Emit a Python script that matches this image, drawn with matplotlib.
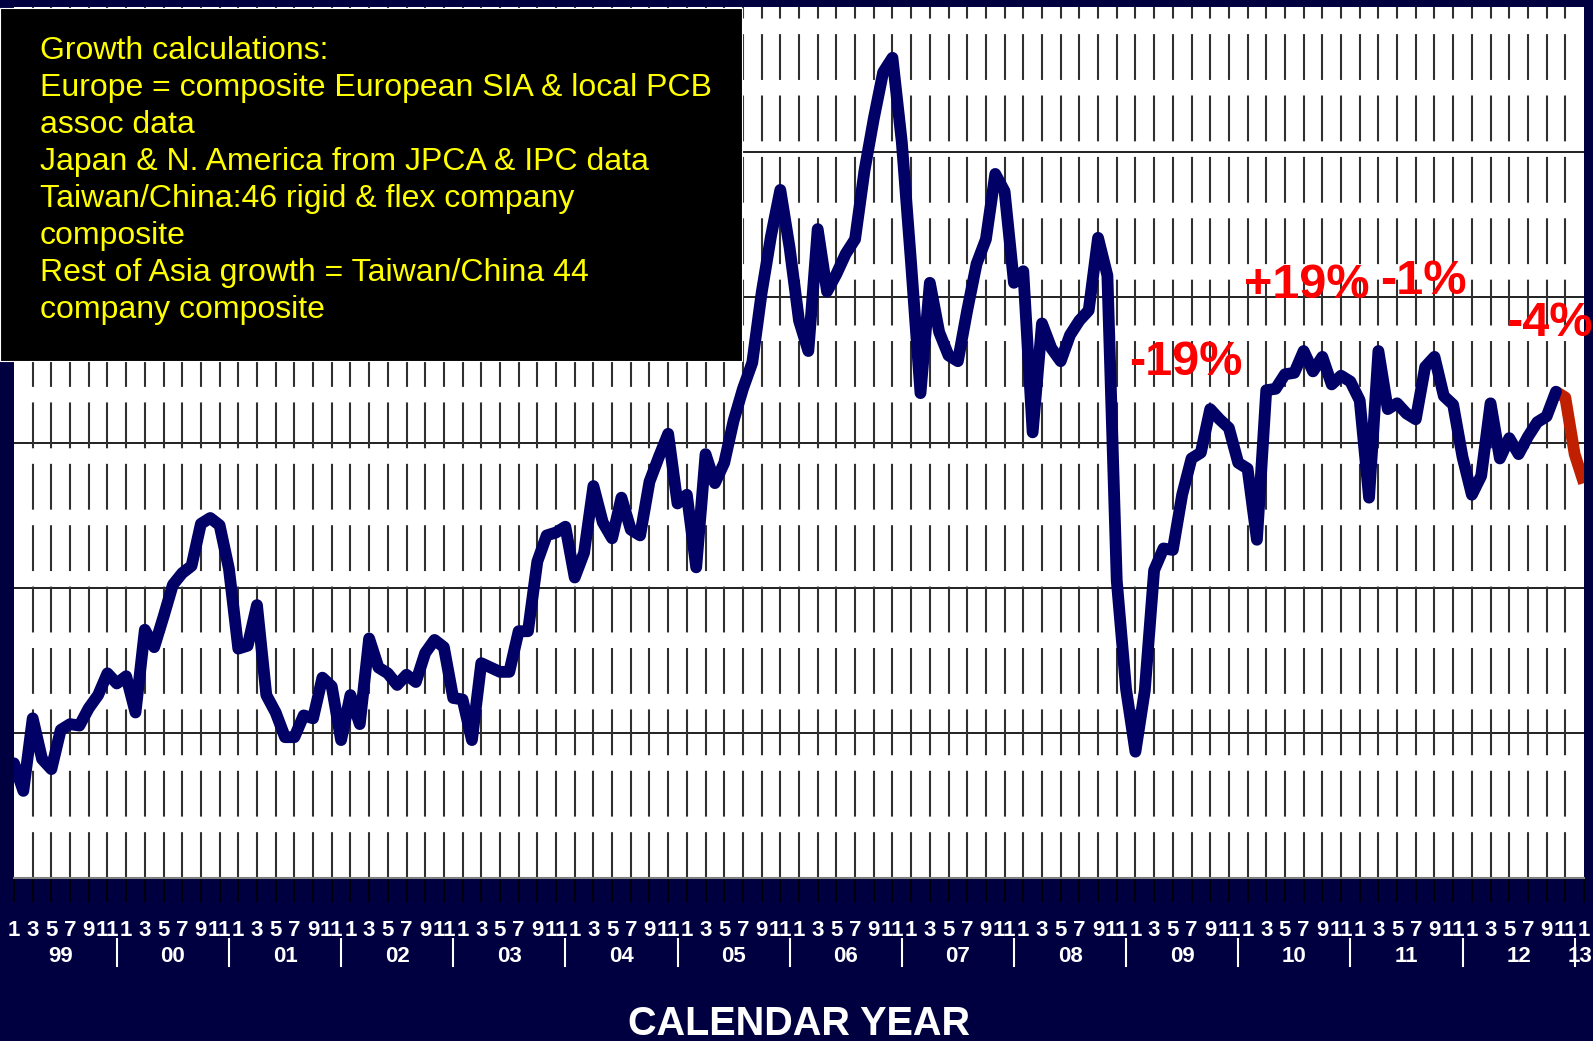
import numpy as np
import matplotlib.pyplot as plt
from matplotlib.patches import Rectangle
from matplotlib.transforms import blended_transform_factory

plt.rcParams['font.family'] = ['Liberation Sans', 'DejaVu Sans']
plt.rcParams['lines.scale_dashes'] = False

# monthly growth ratio, Jan 1999 .. Jan 2013 (169 months)
growth = [
    0.779, 0.760, 0.810, 0.782, 0.775, 0.802, 0.806, 0.805, 0.817, 0.826, 0.841, 0.834,  # 99
    0.839, 0.814, 0.871, 0.859, 0.880, 0.902, 0.910, 0.915, 0.944, 0.948, 0.943, 0.913,  # 00
    0.858, 0.860, 0.888, 0.826, 0.814, 0.797, 0.797, 0.812, 0.810, 0.838, 0.832, 0.795,  # 01
    0.826, 0.806, 0.865, 0.845, 0.841, 0.833, 0.840, 0.835, 0.855, 0.864, 0.859, 0.824,  # 02
    0.823, 0.795, 0.848, 0.845, 0.842, 0.842, 0.870, 0.870, 0.918, 0.936, 0.938, 0.942,  # 03
    0.907, 0.924, 0.970, 0.945, 0.934, 0.962, 0.940, 0.936, 0.973, 0.990, 1.006, 0.958,  # 04
    0.964, 0.914, 0.992, 0.972, 0.986, 1.015, 1.037, 1.055, 1.103, 1.142, 1.174, 1.134,  # 05
    1.084, 1.063, 1.147, 1.104, 1.116, 1.130, 1.140, 1.187, 1.223, 1.255, 1.265, 1.207,  # 06
    1.123, 1.034, 1.110, 1.076, 1.060, 1.056, 1.091, 1.123, 1.140, 1.185, 1.173, 1.110,  # 07
    1.118, 1.007, 1.082, 1.065, 1.056, 1.074, 1.084, 1.091, 1.141, 1.115, 0.905, 0.830,  # 08
    0.787, 0.829, 0.912, 0.927, 0.926, 0.964, 0.989, 0.993, 1.023, 1.016, 1.010, 0.986,  # 09
    0.982, 0.933, 1.036, 1.037, 1.047, 1.048, 1.063, 1.049, 1.059, 1.040, 1.046, 1.042,  # 10
    1.029, 0.962, 1.063, 1.023, 1.027, 1.020, 1.016, 1.052, 1.059, 1.032, 1.026, 0.990,  # 11
    0.964, 0.977, 1.027, 0.989, 1.003, 0.992, 1.004, 1.014, 1.018, 1.035, 1.031, 0.992,  # 12
    0.972,                                                                               # 13
]
forecast_from = 165  # Oct 2012 onward drawn in red

month_labels = ['1', '3', '5', '7', '9', '11']
year_labels = ['99', '00', '01', '02', '03', '04', '05', '06', '07', '08', '09', '10', '11', '12', '13']

box_lines = [
    'Growth calculations:',
    'Europe = composite European SIA & local PCB',
    'assoc data',
    'Japan & N. America from JPCA & IPC data',
    'Taiwan/China:46 rigid & flex company',
    'composite',
    'Rest of Asia growth = Taiwan/China 44',
    'company composite',
]

callout_text = ['-19%', '+19%', '-1%', '-4%']
callout_x = [125.4, 138.3, 150.8, 164.3]
callout_y = [1.055, 1.108, 1.111, 1.082]

W, H = 1593, 1041
bg = '#000040'
fig = plt.figure(figsize=(W / 100, H / 100), dpi=100, facecolor=bg)
ax = fig.add_axes([14 / W, 1 - 878 / H, 1570 / W, 871 / H])
ax.set_facecolor('white')

months = np.arange(len(growth))
ax.set_xlim(0, 168)
ax.set_ylim(0.7, 1.3)

for y in [0.8, 0.9, 1.0, 1.1, 1.2]:
    ax.axhline(y, color='#202020', lw=1.4, zorder=1)
for m in range(2, 168, 2):
    ax.axvline(m, color='#303030', lw=1.5, ls=(0, (33, 11.2)), zorder=1)

ax.plot(months[:forecast_from + 1], growth[:forecast_from + 1], color='#000066', lw=8.5,
        solid_joinstyle='round', solid_capstyle='round', zorder=3)
ax.plot(months[forecast_from:], growth[forecast_from:], color='#C02000', lw=8.5,
        solid_joinstyle='round', solid_capstyle='butt', zorder=2)

for t, cx, cy in zip(callout_text, callout_x, callout_y):
    ax.text(cx, cy, t, color='#FF0000', fontsize=35, fontweight='bold',
            ha='center', va='center', zorder=4, clip_on=False)

for s in ['top', 'right', 'left']:
    ax.spines[s].set_visible(False)
ax.spines['bottom'].set_color('#808080')
ax.spines['bottom'].set_linewidth(1.5)
ax.set_yticks([])
ax.set_xticks(range(0, 169, 2))
ax.tick_params(axis='x', length=17, width=1.2, color='black', direction='out', labelbottom=False)

trans = blended_transform_factory(ax.transData, fig.transFigure)
for i, m in enumerate(range(0, 169, 2)):
    ax.text(m, 1 - 931 / H, month_labels[i % 6], transform=trans, color='white',
            fontsize=16, fontweight='bold', ha='center', va='center', clip_on=False)
for j, yl in enumerate(year_labels[:-1]):
    ax.text(12 * j + 5, 1 - 957 / H, yl, transform=trans, color='white',
            fontsize=16, fontweight='bold', ha='center', va='center', clip_on=False)
# last year label squeezed against the right edge
fig.text(1592 / W, 1 - 957 / H, year_labels[-1], color='white', fontsize=16,
         fontweight='bold', ha='right', va='center')
for j in range(1, len(year_labels)):
    sx = 12 * j - 1
    ax.plot([sx, sx], [1 - 939 / H, 1 - 966 / H], transform=trans, color='white',
            lw=1.5, clip_on=False)

fig.text((14 + 1584) / 2 / W, 1 - 1024 / H, 'CALENDAR YEAR', color='white',
         fontsize=28.5, fontweight='bold', ha='center', va='center')

fig.patches.append(Rectangle((0, 1 - 361 / H), 742 / W, 353 / H, transform=fig.transFigure,
                             facecolor='black', edgecolor='white', lw=0.8, zorder=5))
for i, line in enumerate(box_lines):
    fig.text(40 / W, 1 - (59 + 37 * i) / H, line, color='#FFFF00', fontsize=23,
             ha='left', va='baseline', zorder=6)

fig.savefig('out.png', dpi=100, facecolor=bg)
